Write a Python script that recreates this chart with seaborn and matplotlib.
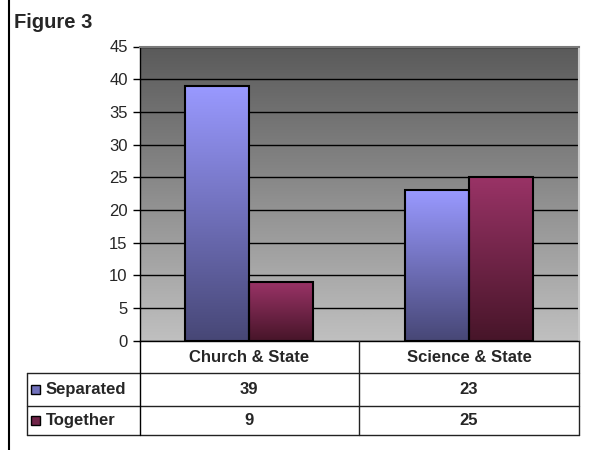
import matplotlib
matplotlib.use("Agg")
import matplotlib.pyplot as plt
import matplotlib.colors as mcolors
from matplotlib.patches import Rectangle
from matplotlib.lines import Line2D
import numpy as np
import pandas as pd
import seaborn as sns

# data
categories = ["Church & State", "Science & State"]
series = ["Separated", "Together"]
separated = [39, 23]
together = [9, 25]
yticks = [0, 5, 10, 15, 20, 25, 30, 35, 40, 45]

# gradient ends (top, bottom) per series
top_colors = {"Separated": "#9999ff", "Together": "#993366"}
bottom_colors = {"Separated": "#474776", "Together": "#471529"}

df = pd.DataFrame({
    "category": categories * 2,
    "series": [series[0]] * 2 + [series[1]] * 2,
    "value": separated + together,
})

sns.set_style("white")
plt.rcParams["font.family"] = ["Liberation Sans", "DejaVu Sans"]

W, H = 589, 450
fig = plt.figure(figsize=(W / 100, H / 100), dpi=100)
fig.patch.set_facecolor("white")

left, right, top, bottom = 139.5, 579.0, 46.5, 340.7
ax = fig.add_axes([left / W, 1 - bottom / H, (right - left) / W, (bottom - top) / H])

sns.barplot(data=df, x="category", y="value", hue="series", hue_order=series,
            palette=top_colors, saturation=1, width=0.583, edgecolor="black",
            linewidth=1.5, legend=False, ax=ax)

ax.set_ylim(0, 45)
ax.set_xlim(-0.5, 1.5)
xlim, ylim = ax.get_xlim(), ax.get_ylim()

# background gradient
bg = np.linspace(0xc0, 0x5a, 256) / 255.0
bg_img = np.dstack([bg, bg, bg]).reshape(256, 1, 3)
ax.imshow(bg_img, extent=[xlim[0], xlim[1], ylim[0], ylim[1]], origin="lower",
          aspect="auto", zorder=-1, interpolation="bilinear")


def nearest_series(rgb):
    d = {k: np.sum((np.array(mcolors.to_rgb(v)) - np.array(rgb[:3])) ** 2)
         for k, v in top_colors.items()}
    return min(d, key=d.get)


# gradient fill inside each bar
for patch in list(ax.patches):
    name = nearest_series(patch.get_facecolor())
    c_top = np.array(mcolors.to_rgb(top_colors[name]))
    c_bot = np.array(mcolors.to_rgb(bottom_colors[name]))
    t = np.linspace(0, 1, 128)[:, None]
    grad = (c_bot * (1 - t) + c_top * t).reshape(128, 1, 3)
    x0, y0 = patch.get_x(), patch.get_y()
    w, h = patch.get_width(), patch.get_height()
    im = ax.imshow(grad, extent=[x0, x0 + w, y0, y0 + h], origin="lower",
                   aspect="auto", zorder=1.5, interpolation="bilinear")
    im.set_clip_path(patch)
    patch.set_facecolor("none")
    patch.set_zorder(2)

ax.set_xlim(xlim)
ax.set_ylim(ylim)

ax.set_yticks(yticks)
ax.yaxis.grid(True, color="black", linewidth=1)
ax.set_axisbelow(True)
ax.tick_params(axis="y", direction="out", length=5, width=1, color="black",
               labelsize=12, pad=3.5, left=True)
ax.tick_params(axis="x", length=0, labelbottom=False)
ax.set_xlabel("")
ax.set_ylabel("")
for s in ["left", "bottom"]:
    ax.spines[s].set_color("black")
    ax.spines[s].set_linewidth(1)
ax.spines["top"].set_color("#7a7a7a")
ax.spines["top"].set_linewidth(1.5)
ax.spines["right"].set_color("#c8c8c8")
ax.spines["right"].set_linewidth(1.5)

# overlay in pixel coordinates for title, border and data table
ov = fig.add_axes([0, 0, 1, 1])
ov.set_xlim(0, W)
ov.set_ylim(H, 0)
ov.axis("off")
ov.patch.set_alpha(0)

ov.add_line(Line2D([9, 9], [0, H], color="black", lw=1.5))
ov.text(14, 23, "Figure 3", fontsize=14.5, fontweight="bold", va="center", ha="left")

row_h = [340.7, 373.3, 405.7, 435.0]
tbl_left = 26.7
mid = (left + right) / 2
line_kw = dict(color="#222222", lw=1)
ov.add_line(Line2D([tbl_left, right], [row_h[1]] * 2, **line_kw))
ov.add_line(Line2D([tbl_left, right], [row_h[2]] * 2, **line_kw))
ov.add_line(Line2D([tbl_left, right], [row_h[3]] * 2, **line_kw))
ov.add_line(Line2D([tbl_left, tbl_left], [row_h[1], row_h[3]], **line_kw))
ov.add_line(Line2D([left, left], [row_h[0], row_h[3]], color="black", lw=1))
ov.add_line(Line2D([mid, mid], [row_h[0], row_h[3]], **line_kw))
ov.add_line(Line2D([right, right], [row_h[0], row_h[3]], **line_kw))

col_centers = [(left + mid) / 2, (mid + right) / 2]
for cx, cat in zip(col_centers, categories):
    ov.text(cx, (row_h[0] + row_h[1]) / 2, cat, fontsize=12, fontweight="bold",
            ha="center", va="center")

rows = [separated, together]
for i, (name, vals) in enumerate(zip(series, rows)):
    cy = (row_h[i + 1] + row_h[i + 2]) / 2
    c_mid = (np.array(mcolors.to_rgb(top_colors[name])) +
             np.array(mcolors.to_rgb(bottom_colors[name]))) / 2
    ov.add_patch(Rectangle((31, cy - 4.5), 9, 9, facecolor=c_mid,
                           edgecolor="black", lw=1))
    ov.text(46, cy, name, fontsize=12, fontweight="bold", ha="left", va="center")
    for cx, v in zip(col_centers, vals):
        ov.text(cx, cy, str(v), fontsize=12, fontweight="bold",
                ha="center", va="center")

fig.savefig("out.png", dpi=100)
